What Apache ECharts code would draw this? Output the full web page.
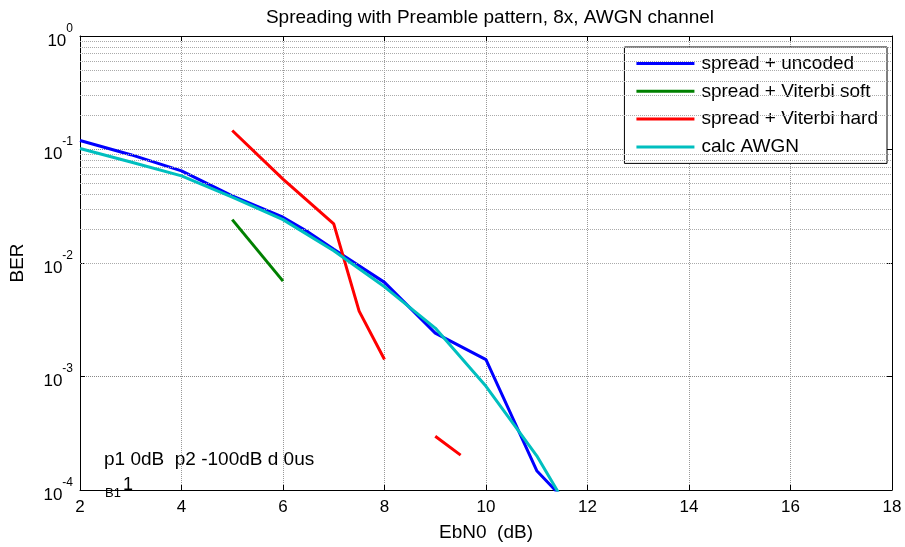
<!DOCTYPE html>
<html>
<head>
<meta charset="utf-8">
<script src="https://cdn.jsdelivr.net/npm/echarts@6/dist/echarts.min.js"></script>
<style>
  html, body { margin: 0; padding: 0; background: #fff; }
  #chart { width: 905px; height: 547px; }
</style>
</head>
<body>
<div id="chart"></div>
<script>
// values
var uncodedX = [2, 3, 4, 5, 6, 6.5, 7, 8, 9, 10, 11, 12]
var uncodedY = [0.120, 0.090, 0.0648, 0.039, 0.0253, 0.0187, 0.0132, 0.00675, 0.00241, 0.00141, 0.000148, 0.00005]
var softX = [5, 6]
var softY = [0.0241, 0.00692]
var hardX = [5, 6, 7, 7.5, 8, 8.5, 9, 9.5]
var hardY = [0.147, 0.0548, 0.0221, 0.00377, 0.00141, null, 0.000298, 0.000203]
var awgnX = [2, 3, 4, 5, 6, 7, 8, 9, 10, 11, 12]
var awgnY = [0.102, 0.0775, 0.0586, 0.038, 0.0241, 0.0128, 0.00617, 0.00267, 0.00082, 0.0002, 0.000035]
var legendNames = ['spread + uncoded', 'spread + Viterbi soft', 'spread + Viterbi hard', 'calc AWGN']

function pairs (xs, ys) {
  return xs.map(function (x, i) { return [x, ys[i]] })
}

// minor log grid lines (2..9 x each decade)
var minorLines = []
for (var d = -4; d < 0; d++) {
  for (var m = 2; m <= 9; m++) {
    minorLines.push({ yAxis: m * Math.pow(10, d) })
  }
}

var font = 'Liberation Sans'
var chart = echarts.init(document.getElementById('chart'))

var option = {
  animation: false,
  textStyle: { fontFamily: font },
  title: {
    text: 'Spreading with Preamble pattern, 8x, AWGN channel',
    left: 485,
    textAlign: 'center',
    top: 3,
    textStyle: { fontFamily: font, fontSize: 19, fontWeight: 'normal', color: '#000' }
  },
  grid: { left: 79, right: 13, top: 36, bottom: 54, show: false },
  legend: {
    right: 18,
    top: 47,
    orient: 'vertical',
    backgroundColor: '#fff',
    borderColor: '#000',
    borderWidth: 1,
    padding: [6, 9, 6, 12],
    itemWidth: 58,
    itemHeight: 3,
    itemGap: 6.8,
    icon: 'rect',
    textStyle: { fontFamily: font, fontSize: 19, lineHeight: 21, color: '#000', padding: [0, 0, 0, 2] },
    data: legendNames
  },
  xAxis: [
    {
      type: 'value',
      min: 2,
      max: 18,
      interval: 2,
      name: 'EbN0  (dB)',
      nameLocation: 'middle',
      nameGap: 33,
      nameTextStyle: { fontFamily: font, fontSize: 19, color: '#000' },
      axisLine: { show: true, onZero: false, lineStyle: { color: '#000', width: 1 } },
      axisTick: { show: true, inside: true, length: 5, lineStyle: { color: '#000' } },
      axisLabel: { color: '#000', fontSize: 17, fontFamily: font, margin: 9 },
      splitLine: { show: true, lineStyle: { color: '#999', type: [1, 1], width: 1 } }
    },
    {
      type: 'value',
      position: 'top',
      min: 2,
      max: 18,
      interval: 2,
      axisLine: { show: true, onZero: false, lineStyle: { color: '#000', width: 1 } },
      axisTick: { show: true, inside: true, length: 5, lineStyle: { color: '#000' } },
      axisLabel: { show: false },
      splitLine: { show: false }
    }
  ],
  yAxis: [
    {
      type: 'log',
      logBase: 10,
      min: 1e-4,
      max: 1,
      name: 'BER',
      nameLocation: 'middle',
      nameGap: 53,
      nameRotate: 90,
      nameTextStyle: { fontFamily: font, fontSize: 19, color: '#000' },
      axisLine: { show: true, onZero: false, lineStyle: { color: '#000', width: 1 } },
      axisTick: { show: true, inside: true, length: 5, lineStyle: { color: '#000' } },
      axisLabel: {
        color: '#000',
        margin: 7,
        formatter: function (v) {
          var e = Math.round(Math.log10(v))
          return '{b|10}{s|' + e + '}'
        },
        rich: {
          b: { fontFamily: font, fontSize: 17, color: '#000', verticalAlign: 'bottom', padding: [10, 0, 0, 0] },
          s: { fontFamily: font, fontSize: 12, color: '#000', verticalAlign: 'top', padding: [0, 0, 10, 0] }
        }
      },
      splitLine: { show: true, lineStyle: { color: '#888', type: [1, 1], width: 1 } }
    },
    {
      type: 'log',
      logBase: 10,
      min: 1e-4,
      max: 1,
      position: 'right',
      axisLine: { show: true, onZero: false, lineStyle: { color: '#000', width: 1 } },
      axisTick: { show: true, inside: true, length: 5, lineStyle: { color: '#000' } },
      axisLabel: { show: false },
      splitLine: { show: false }
    }
  ],
  graphic: [
    {
      type: 'text',
      left: 104,
      top: 450,
      style: { text: 'p1 0dB  p2 -100dB d 0us', font: '19px "Liberation Sans"', fill: '#000' }
    },
    {
      type: 'text',
      left: 105,
      top: 487,
      style: { text: 'B1', font: '13px "Liberation Sans"', fill: '#000' }
    },
    {
      type: 'text',
      left: 123,
      top: 476,
      style: { text: '1', font: '18px "Liberation Sans"', fill: '#000' }
    }
  ],
  series: [
    {
      name: 'grid-minor',
      type: 'line',
      data: [],
      silent: true,
      markLine: {
        silent: true,
        symbol: 'none',
        label: { show: false },
        lineStyle: { color: '#aaa', type: [1, 1], width: 1 },
        data: minorLines
      }
    },
    {
      name: legendNames[0],
      type: 'line',
      data: pairs(uncodedX, uncodedY),
      symbol: 'none',
      color: '#0000ff',
      lineStyle: { width: 3, color: '#0000ff' },
      z: 4
    },
    {
      name: legendNames[1],
      type: 'line',
      data: pairs(softX, softY),
      symbol: 'none',
      color: '#008000',
      lineStyle: { width: 3, color: '#008000' },
      z: 5
    },
    {
      name: legendNames[2],
      type: 'line',
      data: pairs(hardX, hardY),
      symbol: 'none',
      connectNulls: false,
      color: '#ff0000',
      lineStyle: { width: 3, color: '#ff0000' },
      z: 6
    },
    {
      name: legendNames[3],
      type: 'line',
      data: pairs(awgnX, awgnY),
      symbol: 'none',
      color: '#00bfbf',
      lineStyle: { width: 3, color: '#00bfbf' },
      z: 7
    }
  ]
}
chart.setOption(option)
</script>
</body>
</html>
